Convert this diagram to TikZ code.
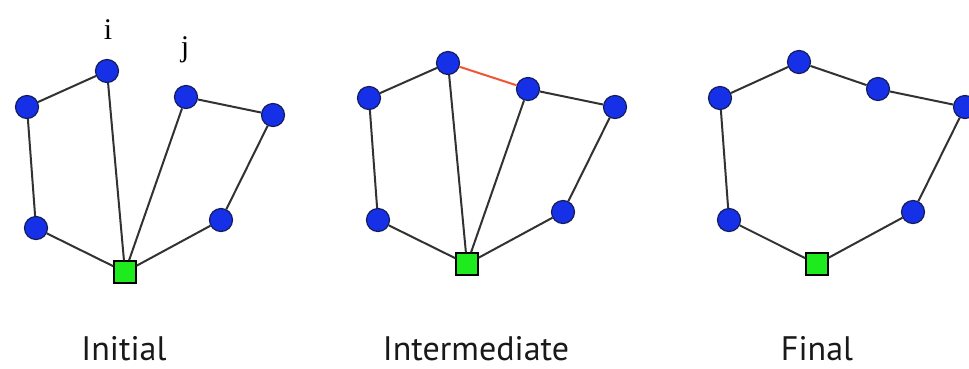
\documentclass[tikz,border=0pt]{standalone}
\usepackage{fontspec}
\setmainfont{PT Sans}
\newfontfamily\labelserif{Liberation Serif}
\definecolor{custblue}{RGB}{22,48,232}
\definecolor{custborder}{RGB}{20,30,90}
\definecolor{depotgreen}{RGB}{30,235,30}
\definecolor{edgegray}{RGB}{50,50,50}
\definecolor{newedge}{RGB}{240,85,55}
\tikzset{
  cust/.style={circle, fill=custblue, draw=custborder, line width=1.2pt, minimum size=23pt, inner sep=0pt},
  depot/.style={rectangle, fill=depotgreen, draw=black, line width=1.2pt, minimum size=22pt, inner sep=0pt},
  route/.style={draw=edgegray, line width=2pt},
  merged/.style={draw=newedge, line width=2pt},
  caption/.style={font=\fontsize{34}{40}\selectfont, anchor=base, text depth=0pt, inner sep=1pt, text=black!90},
  idx/.style={font=\labelserif\fontsize{30}{34}\selectfont}
}
\begin{document}
\begin{tikzpicture}[x=1pt, y=-1pt]
\useasboundingbox[fill=white] (0,0) rectangle (969,368);

% Initial: two separate routes from the depot
\node[cust] (a1) at (27,107) {};
\node[cust] (i1) at (107,71) {};
\node[cust] (j1) at (186,97) {};
\node[cust] (r1) at (273,115) {};
\node[cust] (bl1) at (36,228) {};
\node[cust] (br1) at (221,220) {};
\node[depot] (d1) at (125,272) {};
\node[idx] (li) at (108,30) {i};
\node[idx] (lj) at (185,50) {j};
\node[caption] (c1) at (124,360) {Initial};

% Intermediate: i and j joined by the new link
\node[cust] (a2) at (369,98) {};
\node[cust] (i2) at (448,63) {};
\node[cust] (j2) at (528,89) {};
\node[cust] (r2) at (615,107) {};
\node[cust] (bl2) at (378,220) {};
\node[cust] (br2) at (563,212) {};
\node[depot] (d2) at (467,264) {};
\node[caption] (c2) at (476,360) {Intermediate};

% Final: one merged route
\node[cust] (a3) at (720,98) {};
\node[cust] (i3) at (799,62) {};
\node[cust] (j3) at (878,89) {};
\node[cust] (r3) at (965,107) {};
\node[cust] (bl3) at (729,220) {};
\node[cust] (br3) at (913,212) {};
\node[depot] (d3) at (817,264) {};
\node[caption] (c3) at (817,360) {Final};

% route links, ending at the node borders
\path[route] (a1) -- (i1) (a1) -- (bl1) (bl1) -- (d1) (i1) -- (d1)
             (j1) -- (d1) (j1) -- (r1) (r1) -- (br1) (br1) -- (d1);
\path[route] (a2) -- (i2) (a2) -- (bl2) (bl2) -- (d2) (i2) -- (d2)
             (j2) -- (d2) (j2) -- (r2) (r2) -- (br2) (br2) -- (d2);
\path[merged] (i2) -- (j2);
\path[route] (a3) -- (i3) (i3) -- (j3) (j3) -- (r3) (a3) -- (bl3)
             (bl3) -- (d3) (r3) -- (br3) (br3) -- (d3);
\end{tikzpicture}
\end{document}
